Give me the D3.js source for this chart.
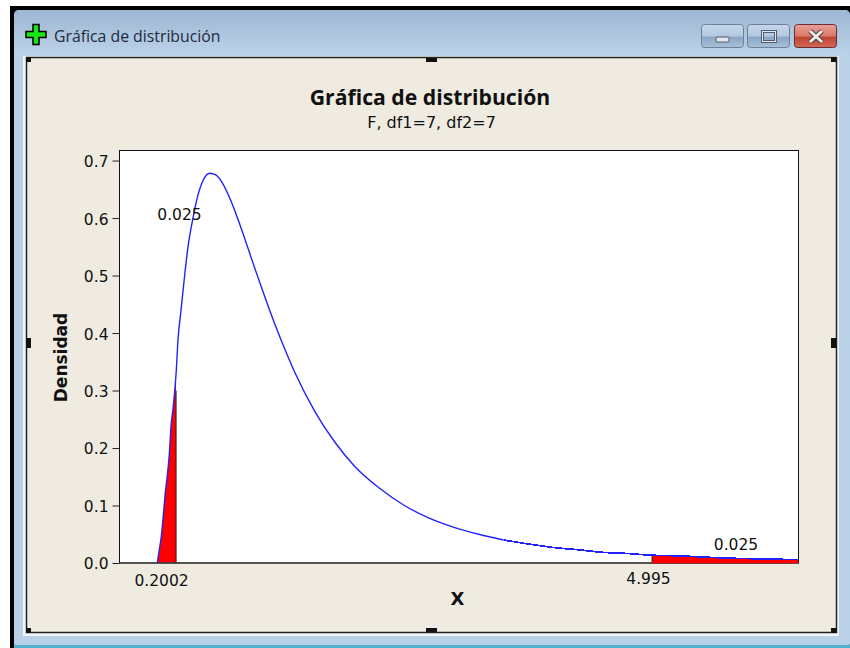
<!DOCTYPE html>
<html><head><meta charset="utf-8">
<script src="https://cdn.jsdelivr.net/npm/d3@7"></script>
<style>html,body{margin:0;padding:0;background:#fff;overflow:hidden}svg{display:block}text{font-family:"DejaVu Sans",sans-serif;fill:#111}</style>
</head><body><svg id="c" width="850" height="648"></svg>
<script>
const windowTitle = "Gráfica de distribución";
const chartTitle = "Gráfica de distribución";
const chartSubtitle = "F, df1=7, df2=7";
const xLabel = "X";
const yLabel = "Densidad";
const yTicks = [0, 0.1, 0.2, 0.3, 0.4, 0.5, 0.6, 0.7];
const xDomain = [-0.37, 6.47];
const yDomain = [0, 0.7175];
const lowerCut = 0.2002, upperCut = 4.995;
const lowerLabel = "0.2002", upperLabel = "4.995", tailLabel = "0.025";
const xValues = [0.01,0.03,0.05,0.07,0.09,0.11,0.13,0.15,0.17,0.2002,0.22,0.25,0.28,0.32,0.37,0.42,0.47,0.54,0.6,0.67,0.75,0.85,1.0,1.1,1.2,1.3,1.4,1.6,1.8,2.0,2.25,2.5,2.75,3.0,3.25,3.5,3.75,4.0,4.25,4.5,4.75,4.995,5.25,5.5,5.75,6.0,6.25,6.47];
const density = [0,0.022,0.045,0.08,0.12,0.15,0.185,0.24,0.27,0.33,0.39,0.44,0.49,0.55,0.60,0.64,0.665,0.678,0.675,0.66,0.631,0.585,0.509,0.46,0.413,0.37,0.33,0.263,0.21,0.168,0.13,0.10,0.078,0.062,0.05,0.04,0.033,0.027,0.023,0.0185,0.0165,0.0135,0.0125,0.0105,0.0085,0.0075,0.0065,0.006];

const svg = d3.select("#c");
const defs = svg.append("defs");
function grad(id, stops){
  const g = defs.append("linearGradient").attr("id",id).attr("x1",0).attr("x2",0).attr("y1",0).attr("y2",1);
  stops.forEach(s=>g.append("stop").attr("offset",s[0]).attr("stop-color",s[1]));
}
grad("bar",[[0,"#9db6d2"],[1,"#bcd3ea"]]);
grad("btn",[[0,"#c4d6ea"],[0.5,"#b3c9e0"],[0.55,"#8ba6c4"],[1,"#a9c1da"]]);
grad("cls",[[0,"#e8a094"],[0.5,"#d97a6c"],[0.55,"#c0432f"],[1,"#cf6a58"]]);

// window frame
svg.append("rect").attr("x",10).attr("y",6).attr("width",840).attr("height",642).attr("fill","#000");
svg.append("rect").attr("x",14).attr("y",10).attr("width",836).attr("height",638).attr("rx",5).attr("fill","#b9d0e8");
svg.append("rect").attr("x",14).attr("y",10).attr("width",836).attr("height",46).attr("rx",5).attr("fill","url(#bar)");
svg.append("rect").attr("x",14).attr("y",645).attr("width",836).attr("height",3).attr("fill","#4fb0cf");
svg.append("rect").attr("x",23).attr("y",56).attr("width",816).attr("height",580).attr("fill","#f2f5f8");
svg.append("rect").attr("x",26.5).attr("y",57.5).attr("width",810).attr("height",575).attr("fill","#efebe1").attr("stroke","#222").attr("stroke-width",1.5);

// icon
svg.append("path").attr("d","M33 24.5h6v7h7v6h-7v7h-6v-7h-7v-6h7z").attr("fill","#19e619").attr("stroke","#000").attr("stroke-width",1.5);
svg.append("text").attr("x",54).attr("y",42).attr("font-size",15.8).style("font-family","'Open Sans',sans-serif").style("fill","#1d2a3a").text(windowTitle);

// window buttons
[[702,"btn"],[748,"btn"],[795,"cls"]].forEach(([x,f])=>{
  svg.append("rect").attr("x",x-0.5).attr("y",24.5).attr("width",42).attr("height",23).attr("rx",3).attr("fill",`url(#${f})`).attr("stroke",f==="cls"?"#6b2a35":"#6f8199");
});
svg.append("rect").attr("x",716).attr("y",37).attr("width",13).attr("height",5).attr("rx",1).attr("fill","#e3e6ea").attr("stroke","#4e5d70");
svg.append("rect").attr("x",762.5).attr("y",31.5).attr("width",13).attr("height",10).attr("fill","none").attr("stroke","#4e5d70").attr("stroke-width",3);
svg.append("rect").attr("x",762.5).attr("y",31.5).attr("width",13).attr("height",10).attr("fill","none").attr("stroke","#e3e6ea").attr("stroke-width",1);
svg.append("path").attr("d","M810 31l12 11M822 31l-12 11").attr("stroke","#4a3a3a").attr("stroke-width",5);
svg.append("path").attr("d","M810 31l12 11M822 31l-12 11").attr("stroke","#eee").attr("stroke-width",3);

// selection handles
[[26,57,5,5],[831,57,5,5],[26,628,5,5],[831,628,5,5],[426,58,11,4],[426,628,11,4],[26,338,5,10],[831,338,5,10]].forEach(h=>{
  svg.append("rect").attr("x",h[0]).attr("y",h[1]).attr("width",h[2]).attr("height",h[3]).attr("fill","#111");
});

// plot
const L=119.5,R=798.5,T=150.5,B=563;
const x=d3.scaleLinear().domain(xDomain).range([L,R]);
const y=d3.scaleLinear().domain(yDomain).range([B,T]);
svg.append("rect").attr("x",L).attr("y",T).attr("width",R-L).attr("height",B-T).attr("fill","#fff");
defs.append("clipPath").attr("id","pl").append("rect").attr("x",L).attr("y",T).attr("width",R-L).attr("height",B-T);
const pts=xValues.map((v,i)=>[v,density[i]]);
const area=d3.area().curve(d3.curveMonotoneX).x(d=>x(d[0])).y0(y(0)).y1(d=>y(d[1]));
const line=d3.line().curve(d3.curveMonotoneX).x(d=>x(d[0])).y(d=>y(d[1]));
const g=svg.append("g").attr("clip-path","url(#pl)");
g.append("path").attr("d",area(pts.filter(d=>d[0]<=lowerCut))).attr("fill","#f00").attr("shape-rendering","crispEdges");
g.append("path").attr("d",area(pts.filter(d=>d[0]>=upperCut))).attr("fill","#f00").attr("shape-rendering","crispEdges");
g.append("line").attr("x1",x(lowerCut)).attr("x2",x(lowerCut)).attr("y1",y(0)).attr("y2",y(0.3)).attr("stroke","#222").attr("stroke-width",1);
g.append("line").attr("x1",x(upperCut)).attr("x2",x(upperCut)).attr("y1",y(0)).attr("y2",y(0.0135)).attr("stroke","#222").attr("stroke-width",1);
g.append("path").attr("d",line(pts.filter(d=>d[0]<=3.5))).attr("fill","none").attr("stroke","#2222ff").attr("stroke-width",1.4);
g.append("path").attr("d",line(pts.filter(d=>d[0]>=3.5))).attr("fill","none").attr("stroke","#2222ff").attr("stroke-width",1.7).attr("shape-rendering","crispEdges");
svg.append("rect").attr("x",L).attr("y",T).attr("width",R-L).attr("height",B-T).attr("fill","none").attr("stroke","#111").attr("stroke-width",1);
svg.append("line").attr("x1",L).attr("x2",R).attr("y1",B).attr("y2",B).attr("stroke","#444").attr("stroke-width",1.5);
svg.append("line").attr("x1",x(upperCut)).attr("x2",R).attr("y1",B-0.5).attr("y2",B-0.5).attr("stroke","#f00").attr("stroke-width",1.5);

const ax=svg.append("g").attr("transform",`translate(${L},0)`).call(d3.axisLeft(y).tickValues(yTicks).tickFormat(d3.format(".1f")).tickSize(7).tickPadding(4));
ax.select(".domain").remove();
ax.selectAll("line").attr("stroke","#222");
ax.selectAll("text").attr("font-size",15.5).attr("y",1).style("fill","#111");

svg.append("text").attr("x",430).attr("y",105).attr("text-anchor","middle").attr("font-size",21.2).attr("font-weight",700).style("font-family","'Open Sans',sans-serif").text(chartTitle);
svg.append("text").attr("x",431.5).attr("y",128).attr("text-anchor","middle").attr("font-size",16).text(chartSubtitle);
svg.append("text").attr("x",457.5).attr("y",605).attr("text-anchor","middle").attr("font-size",18).attr("font-weight",700).text(xLabel);
svg.append("text").attr("transform","translate(67,357.5) rotate(-90)").attr("text-anchor","middle").attr("font-size",17).attr("font-weight",700).text(yLabel);
svg.append("text").attr("x",161.5).attr("y",586).attr("text-anchor","middle").attr("font-size",15.5).text(lowerLabel);
svg.append("text").attr("x",648.5).attr("y",584).attr("text-anchor","middle").attr("font-size",15.5).text(upperLabel);
svg.append("text").attr("x",179.5).attr("y",220).attr("text-anchor","middle").attr("font-size",15.5).text(tailLabel);
svg.append("text").attr("x",736).attr("y",550).attr("text-anchor","middle").attr("font-size",15.5).text(tailLabel);
</script></body></html>
